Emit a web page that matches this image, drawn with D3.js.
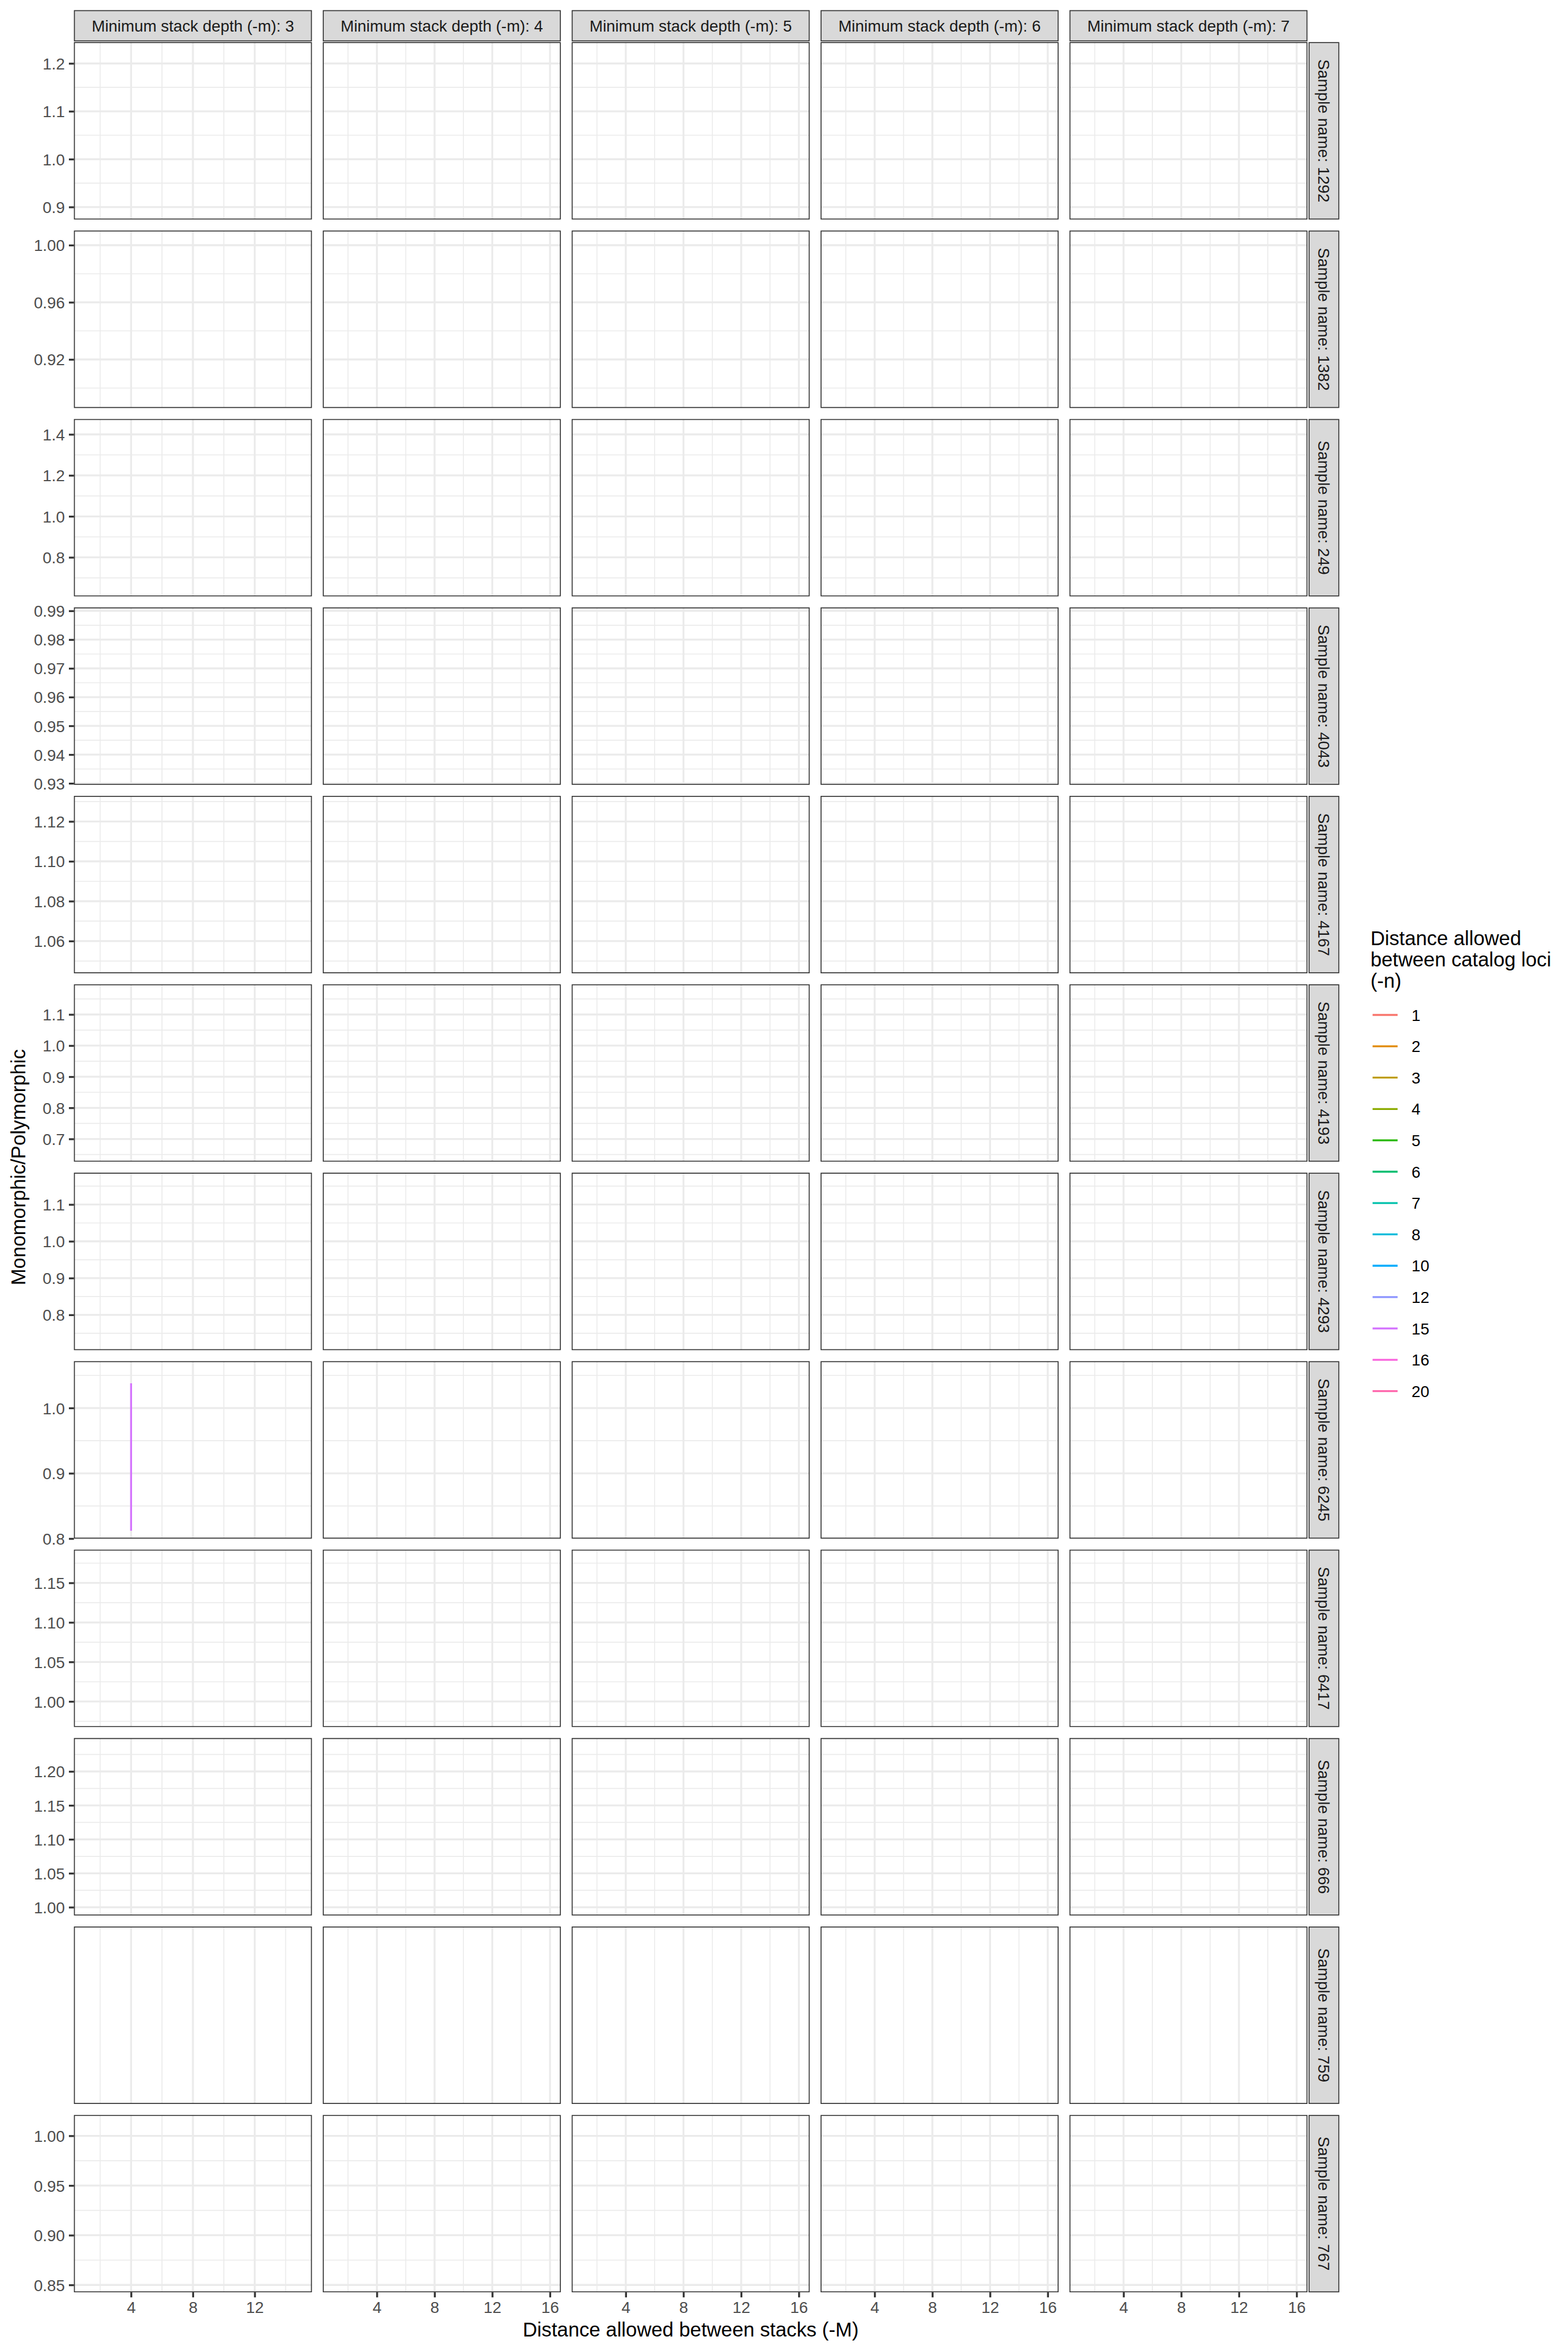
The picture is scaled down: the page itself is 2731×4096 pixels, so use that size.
<!DOCTYPE html>
<html><head><meta charset="utf-8">
<script src="https://cdn.jsdelivr.net/npm/d3@7"></script>
<style>
html,body{margin:0;padding:0;background:#fff;}
svg{display:block;font-family:"Liberation Sans",Arial,Helvetica,sans-serif;}
</style>
</head><body>
<svg id="chart"></svg>
<script>
// ---------------- data ----------------
const depths = [3, 4, 5, 6, 7];
const samples = ["1292","1382","249","4043","4167","4193","4293","6245","6417","666","759","767"];
const nLevels = ["1","2","3","4","5","6","7","8","10","12","15","16","20"];
const nColors = ["#F8766D","#E18A00","#BE9C00","#8CAB00","#24B700","#00BE70","#00C1AB","#00BBDA","#00ACFC","#8B93FF","#D575FE","#F962DD","#FF65AC"];

// x (-M) data range per column (minimum stack depth)
const xMin = [1, 1, 1, 1, 1];
const xMax = [15, 16, 16, 16, 16];
const xTicks = [[4, 8, 12], [4, 8, 12, 16], [4, 8, 12, 16], [4, 8, 12, 16], [4, 8, 12, 16]];

// y (Monomorphic/Polymorphic) data range per sample row (null = no finite values)
const yMin = [0.8908, 0.8917, 0.6490, 0.9323, 1.0479, 0.6529, 0.7261, 0.8124, 0.9779, 0.9998, null, 0.8507];
const yMax = [1.2277, 1.0046, 1.4359, 0.9884, 1.1288, 1.1711, 1.1645, 1.0594, 1.1819, 1.2373, null, 1.0129];
const yTicks = [
  [0.9, 1.0, 1.1, 1.2],
  [0.92, 0.96, 1.00],
  [0.8, 1.0, 1.2, 1.4],
  [0.93, 0.94, 0.95, 0.96, 0.97, 0.98, 0.99],
  [1.06, 1.08, 1.10, 1.12],
  [0.7, 0.8, 0.9, 1.0, 1.1],
  [0.8, 0.9, 1.0, 1.1],
  [0.8, 0.9, 1.0],
  [1.00, 1.05, 1.10, 1.15],
  [1.00, 1.05, 1.10, 1.15, 1.20],
  [],
  [0.85, 0.90, 0.95, 1.00]
];
const yTickLabels = [
  ["0.9","1.0","1.1","1.2"],
  ["0.92","0.96","1.00"],
  ["0.8","1.0","1.2","1.4"],
  ["0.93","0.94","0.95","0.96","0.97","0.98","0.99"],
  ["1.06","1.08","1.10","1.12"],
  ["0.7","0.8","0.9","1.0","1.1"],
  ["0.8","0.9","1.0","1.1"],
  ["0.8","0.9","1.0"],
  ["1.00","1.05","1.10","1.15"],
  ["1.00","1.05","1.10","1.15","1.20"],
  [],
  ["0.85","0.90","0.95","1.00"]
];

// the only visible line segment (sample 6245, -m 3, -n 15)
const lineSample = "6245";
const lineDepth = 3;
const lineN = "15";
const lineM = [4, 4];
const lineRatio = [0.812, 1.038];

// ---------------- layout (reference pixel space 3600x5400) ----------------
const W = 3600, H = 5400;
const PL = 169.5, PW = 546.5, PGX = 25;
const PT = 96.7, PH = 407.3, PGY = 25.34;
const stripTopY = 23.3, stripTopH = 71.7;
const stripRightGap = 2.6, stripRightW = 70.4;
const fsSmall = 36.7, fsBig = 45.8;
const lwMajor = 4.4, lwMinor = 2.2;
const gridCol = "#EBEBEB", borderCol = "#333333", axisTextCol = "#4D4D4D";

const svg = d3.select("#chart")
  .attr("width", 2731).attr("height", 4096)
  .attr("viewBox", `0 0 ${W} ${H}`);
svg.append("rect").attr("width", W).attr("height", H).attr("fill", "#fff");

const colorScale = d3.scaleOrdinal().domain(nLevels).range(nColors);

function expand(lo, hi) { const r = hi - lo; return [lo - 0.05 * r, hi + 0.05 * r]; }
function minorBreaks(major, dom) {
  if (major.length < 2) return [];
  const bd = major[1] - major[0];
  const b = major.slice();
  if (b[0] > dom[0]) b.unshift(b[0] - bd);
  if (b[b.length - 1] < dom[1]) b.push(b[b.length - 1] + bd);
  const out = [];
  for (let i = 0; i < b.length - 1; i++) {
    const m = (b[i] + b[i + 1]) / 2;
    if (m >= dom[0] && m <= dom[1]) out.push(m);
  }
  return out;
}

const defs = svg.append("defs");
const lastRow = samples.length - 1;

samples.forEach((s, ri) => {
  const y0 = PT + ri * (PH + PGY);
  const hasY = yMin[ri] !== null;
  const yDom = hasY ? expand(yMin[ri], yMax[ri]) : [0, 1];
  const y = d3.scaleLinear().domain(yDom).range([y0 + PH, y0]);
  const yMinor = hasY ? minorBreaks(yTicks[ri], yDom) : [];

  depths.forEach((d, ci) => {
    const x0 = PL + ci * (PW + PGX);
    const xDom = expand(xMin[ci], xMax[ci]);
    const x = d3.scaleLinear().domain(xDom).range([x0, x0 + PW]);
    const xMinor = minorBreaks(xTicks[ci], xDom);

    const cid = `clip-${ri}-${ci}`;
    defs.append("clipPath").attr("id", cid)
      .append("rect").attr("x", x0).attr("y", y0).attr("width", PW).attr("height", PH);
    const g = svg.append("g").attr("clip-path", `url(#${cid})`);

    g.append("rect").attr("x", x0).attr("y", y0).attr("width", PW).attr("height", PH).attr("fill", "#fff");

    // minor grid
    g.selectAll(null).data(yMinor).enter().append("line")
      .attr("x1", x0).attr("x2", x0 + PW).attr("y1", v => y(v)).attr("y2", v => y(v))
      .attr("stroke", gridCol).attr("stroke-width", lwMinor);
    g.selectAll(null).data(xMinor).enter().append("line")
      .attr("y1", y0).attr("y2", y0 + PH).attr("x1", v => x(v)).attr("x2", v => x(v))
      .attr("stroke", gridCol).attr("stroke-width", lwMinor);
    // major grid
    g.selectAll(null).data(hasY ? yTicks[ri] : []).enter().append("line")
      .attr("x1", x0).attr("x2", x0 + PW).attr("y1", v => y(v)).attr("y2", v => y(v))
      .attr("stroke", gridCol).attr("stroke-width", lwMajor);
    g.selectAll(null).data(xTicks[ci]).enter().append("line")
      .attr("y1", y0).attr("y2", y0 + PH).attr("x1", v => x(v)).attr("x2", v => x(v))
      .attr("stroke", gridCol).attr("stroke-width", lwMajor);

    // data line
    if (s === lineSample && d === lineDepth) {
      const pts = lineM.map((m, i) => ({ m: m, r: lineRatio[i] }));
      g.append("path").datum(pts)
        .attr("d", d3.line().x(p => x(p.m)).y(p => y(p.r)))
        .attr("fill", "none").attr("stroke", colorScale(lineN)).attr("stroke-width", lwMajor);
    }

    // border (clipped -> half visible)
    g.append("rect").attr("x", x0).attr("y", y0).attr("width", PW).attr("height", PH)
      .attr("fill", "none").attr("stroke", borderCol).attr("stroke-width", lwMajor);

    // top strip
    if (ri === 0) {
      svg.append("rect").attr("x", x0 + 1.1).attr("y", stripTopY + 1.1)
        .attr("width", PW - 2.2).attr("height", stripTopH - 2.2)
        .attr("fill", "#D9D9D9").attr("stroke", borderCol).attr("stroke-width", 2.2);
      svg.append("text").attr("x", x0 + PW / 2).attr("y", stripTopY + stripTopH / 2)
        .attr("dy", "0.35em").attr("text-anchor", "middle")
        .attr("font-size", fsSmall).attr("fill", "#1A1A1A")
        .text(`Minimum stack depth (-m): ${d}`);
    }

    // x axis on bottom row
    if (ri === lastRow) {
      const ax = svg.append("g").attr("transform", `translate(0,${y0 + PH})`);
      const axis = d3.axisBottom(x).tickValues(xTicks[ci]).tickSize(11.5).tickPadding(9.2).tickFormat(d3.format("d"));
      ax.call(axis);
      ax.select(".domain").remove();
      ax.selectAll(".tick line").attr("stroke", borderCol).attr("stroke-width", lwMajor);
      ax.selectAll(".tick text").attr("fill", axisTextCol).attr("font-size", fsSmall)
        .attr("font-family", null).attr("dy", "0.72em");
    }
  });

  // y axis on first column
  if (hasY) {
    const ay = svg.append("g").attr("transform", `translate(${PL},0)`);
    const labels = yTickLabels[ri];
    const axis = d3.axisLeft(y).tickValues(yTicks[ri]).tickSize(11.5).tickPadding(9.2)
      .tickFormat((v, i) => labels[i]);
    ay.call(axis);
    ay.select(".domain").remove();
    ay.selectAll(".tick line").attr("stroke", borderCol).attr("stroke-width", lwMajor);
    ay.selectAll(".tick text").attr("fill", axisTextCol).attr("font-size", fsSmall)
      .attr("font-family", null).attr("dy", "0.36em");
  }

  // right strip
  const sx = PL + depths.length * PW + (depths.length - 1) * PGX + stripRightGap;
  svg.append("rect").attr("x", sx + 1.1).attr("y", y0 + 1.1)
    .attr("width", stripRightW - 2.2).attr("height", PH - 2.2)
    .attr("fill", "#D9D9D9").attr("stroke", borderCol).attr("stroke-width", 2.2);
  svg.append("text")
    .attr("transform", `translate(${sx + stripRightW / 2},${y0 + PH / 2}) rotate(90)`)
    .attr("dy", "0.35em").attr("text-anchor", "middle")
    .attr("font-size", fsSmall).attr("fill", "#1A1A1A")
    .text(`Sample name: ${s}`);
});

// axis titles
const panelsRight = PL + depths.length * PW + (depths.length - 1) * PGX;
const panelsBottom = PT + samples.length * PH + (samples.length - 1) * PGY;
svg.append("text").attr("x", (PL + panelsRight) / 2).attr("y", 5365)
  .attr("text-anchor", "middle").attr("font-size", fsBig).attr("fill", "#000")
  .text("Distance allowed between stacks (-M)");
svg.append("text")
  .attr("transform", `translate(58,${(PT + panelsBottom) / 2}) rotate(-90)`)
  .attr("text-anchor", "middle").attr("font-size", fsBig).attr("fill", "#000")
  .text("Monomorphic/Polymorphic");

// legend
const legX = 3146.6;
const legTitle = ["Distance allowed", "between catalog loci", "(-n)"];
const lt = svg.append("text").attr("font-size", fsBig).attr("fill", "#000");
legTitle.forEach((t, i) => lt.append("tspan").attr("x", legX).attr("y", 2170 + i * 49).text(t));
const keyY0 = 2330.2, keyStep = 71.98;
const lg = svg.append("g");
nLevels.forEach((n, i) => {
  const ky = keyY0 + i * keyStep;
  lg.append("line").attr("x1", 3151.5).attr("x2", 3209).attr("y1", ky).attr("y2", ky)
    .attr("stroke", colorScale(n)).attr("stroke-width", lwMajor);
  lg.append("text").attr("x", 3241).attr("y", ky).attr("dy", "0.36em")
    .attr("font-size", fsSmall).attr("fill", "#000").text(n);
});
</script>
</body></html>
